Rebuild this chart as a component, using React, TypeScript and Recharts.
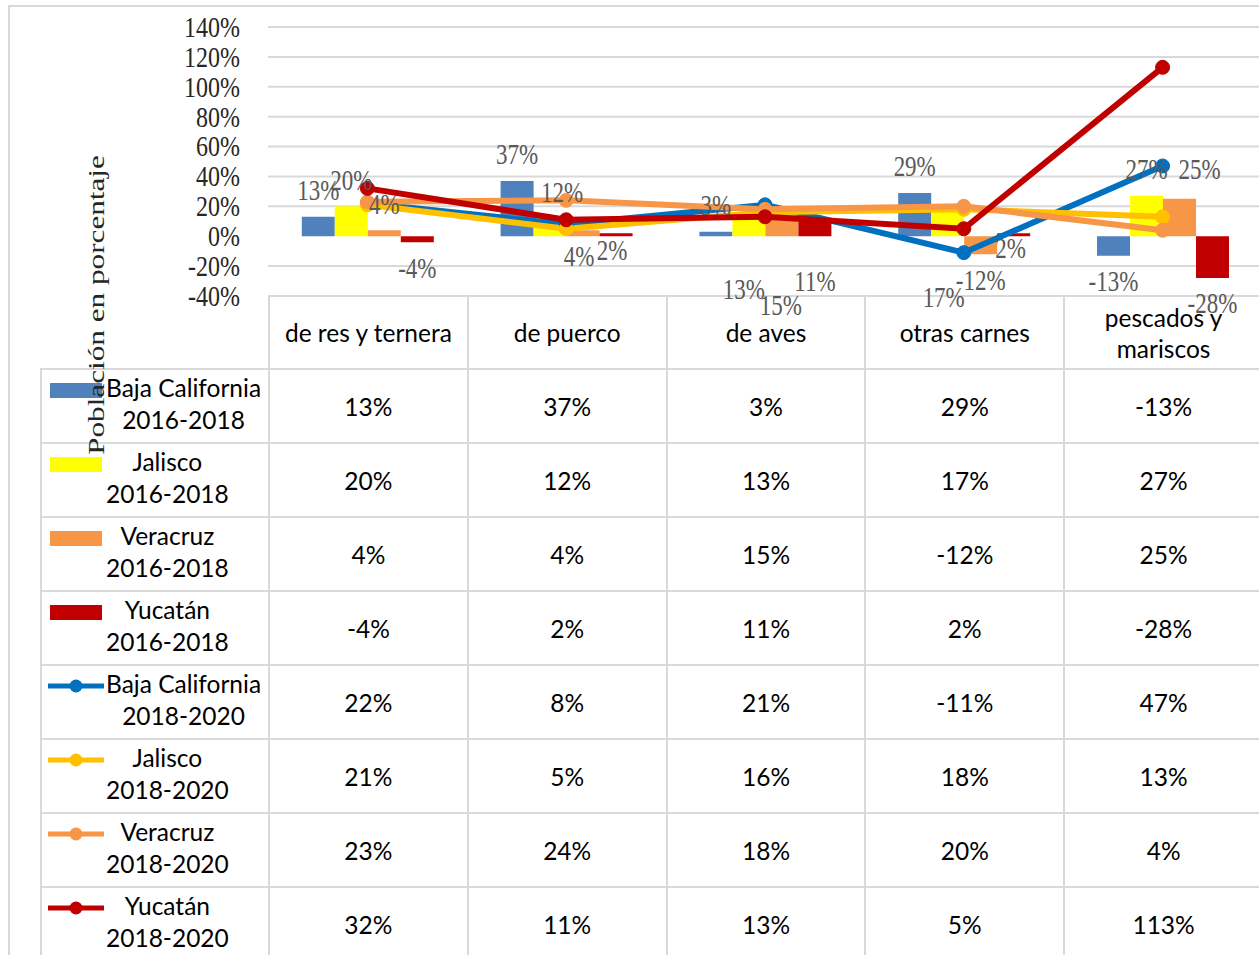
import React from 'react';
import {
  ComposedChart,
  Bar,
  Line,
  XAxis,
  YAxis,
  CartesianGrid,
  LabelList,
  Label,
} from 'recharts';

// categorías y valores (porcentaje de variación)
const categories = ['de res y ternera', 'de puerco', 'de aves', 'otras carnes', 'pescados y mariscos'];
const bajaCalifornia1618 = [13, 37, 3, 29, -13];
const jalisco1618 = [20, 12, 13, 17, 27];
const veracruz1618 = [4, 4, 15, -12, 25];
const yucatan1618 = [-4, 2, 11, 2, -28];
const bajaCalifornia1820 = [22, 8, 21, -11, 47];
const jalisco1820 = [21, 5, 16, 18, 13];
const veracruz1820 = [23, 24, 18, 20, 4];
const yucatan1820 = [32, 11, 13, 5, 113];
const yTicks = [-40, -20, 0, 20, 40, 60, 80, 100, 120, 140];

type Serie = { key: string; name: string; period: string; color: string; kind: 'bar' | 'line'; values: number[] };

const series: Serie[] = [
  { key: 'bc1618', name: 'Baja California', period: '2016-2018', color: '#4f81bd', kind: 'bar', values: bajaCalifornia1618 },
  { key: 'jal1618', name: 'Jalisco', period: '2016-2018', color: '#ffff00', kind: 'bar', values: jalisco1618 },
  { key: 'ver1618', name: 'Veracruz', period: '2016-2018', color: '#f79646', kind: 'bar', values: veracruz1618 },
  { key: 'yuc1618', name: 'Yucatán', period: '2016-2018', color: '#c00000', kind: 'bar', values: yucatan1618 },
  { key: 'bc1820', name: 'Baja California', period: '2018-2020', color: '#0070c0', kind: 'line', values: bajaCalifornia1820 },
  { key: 'jal1820', name: 'Jalisco', period: '2018-2020', color: '#ffc000', kind: 'line', values: jalisco1820 },
  { key: 'ver1820', name: 'Veracruz', period: '2018-2020', color: '#f79646', kind: 'line', values: veracruz1820 },
  { key: 'yuc1820', name: 'Yucatán', period: '2018-2020', color: '#c00000', kind: 'line', values: yucatan1820 },
];

const data = categories.map((category, i) => {
  const row: Record<string, string | number> = { category };
  series.forEach((s) => (row[s.key] = s.values[i]));
  return row;
});

// etiquetas que en el original fueron movidas a mano
const labelNudge: Record<string, Record<number, [number, number]>> = {
  jal1618: { 1: [12, 0], 2: [-5, 99], 3: [-4, 113] },
  ver1618: { 1: [-4, 52], 2: [-1, 118], 4: [20, -3] },
  yuc1618: { 1: [-4, 43], 2: [0, 88], 3: [-3, 41] },
};

const serif = "'Liberation Serif', 'Times New Roman', serif";
const sans = "Lato, 'Noto Sans', sans-serif";

const barLabel = (key: string) => (props: any) => {
  const { x, y, width, height, value, index } = props;
  const v = Number(value);
  const top = Math.min(y, y + height);
  const bottom = Math.max(y, y + height);
  const [dx, dy] = labelNudge[key]?.[index] ?? [0, 0];
  const cx = x + width / 2 + dx;
  const cy = (v >= 0 ? top - 26 : bottom + 26) + dy;
  return (
    <text
      transform={`translate(${cx},${cy}) scale(1,1.25)`}
      textAnchor='middle'
      dominantBaseline='central'
      fill='#595959'
      fontSize={23}
      fontFamily={serif}
    >
      {v}%
    </text>
  );
};

const YTick = (props: any) => {
  const { x, y, payload } = props;
  return (
    <text
      transform={`translate(${x},${y}) scale(1,1.25)`}
      textAnchor='end'
      dominantBaseline='central'
      fill='#262626'
      fontSize={24}
      fontFamily={serif}
    >
      {payload.value}%
    </text>
  );
};

const YTitle = () => (
  <text
    transform='translate(96,305) rotate(-90) scale(1.3,1)'
    textAnchor='middle'
    dominantBaseline='central'
    fill='#262626'
    fontSize={24}
    fontFamily={serif}
  >
    Población en porcentaje
  </text>
);

const border = '2px solid #d9d9d9';
const colW = 198.8;
const colX = (i: number) => 268 + i * colW;
const headTop = 295;
const rowTop = 368;
const rowH = 74;

const LegendKey = ({ s }: { s: Serie }) => (
  <svg width={60} height={30} style={{ position: 'absolute', left: 4, top: 5 }}>
    {s.kind === 'bar' ? (
      <rect x={4} y={8} width={52} height={15} fill={s.color} />
    ) : (
      <g>
        <line x1={2} x2={58} y1={15} y2={15} stroke={s.color} strokeWidth={5} />
        <circle cx={30} cy={15} r={6.5} fill={s.color} />
      </g>
    )}
  </svg>
);

const DataTable = () => (
  <div style={{ position: 'absolute', left: 0, top: 0, fontFamily: sans, fontSize: 24.5, color: '#000' }}>
    {categories.map((c, i) => (
      <div
        key={c}
        style={{
          position: 'absolute',
          left: colX(i),
          top: headTop,
          width: colW,
          height: rowH - 1,
          borderLeft: border,
          borderTop: border,
          boxSizing: 'border-box',
          display: 'flex',
          alignItems: 'center',
          justifyContent: 'center',
          textAlign: 'center',
          lineHeight: '31px',
        }}
      >
        <div style={{ maxWidth: 186 }}>{c}</div>
      </div>
    ))}
    {series.map((s, r) => (
      <React.Fragment key={s.key}>
        <div
          style={{
            position: 'absolute',
            left: 40,
            top: rowTop + r * rowH,
            width: 268 - 40,
            height: rowH,
            borderLeft: border,
            borderTop: border,
            boxSizing: 'border-box',
          }}
        >
          <LegendKey s={s} />
          <div
            style={{
              position: 'absolute',
              left: 64,
              top: 2,
              textAlign: 'center',
              lineHeight: '32px',
              whiteSpace: 'nowrap',
            }}
          >
            {s.name}
            <br />
            {s.period}
          </div>
        </div>
        {s.values.map((v, i) => (
          <div
            key={i}
            style={{
              position: 'absolute',
              left: colX(i),
              top: rowTop + r * rowH,
              width: colW,
              height: rowH,
              borderLeft: border,
              borderTop: border,
              boxSizing: 'border-box',
              display: 'flex',
              alignItems: 'center',
              justifyContent: 'center',
            }}
          >
            {v}%
          </div>
        ))}
      </React.Fragment>
    ))}
  </div>
);

export default function App() {
  return (
    <div style={{ position: 'absolute', left: 0, top: 0, width: 1259, height: 955, overflow: 'hidden', background: '#fff' }}>
      <div
        style={{
          position: 'absolute',
          left: 8,
          top: 5,
          width: 1300,
          height: 1000,
          borderLeft: border,
          borderTop: border,
          boxSizing: 'border-box',
        }}
      />
      <DataTable />
      <div style={{ position: 'absolute', left: 0, top: 0 }}>
        <ComposedChart
          width={1270}
          height={480}
          data={data}
          margin={{ top: 27, right: 8, bottom: 184, left: 0 }}
          barCategoryGap='17%'
          barGap={0}
        >
          <CartesianGrid
            vertical={false}
            stroke='#d9d9d9'
            strokeWidth={2}
            horizontalValues={yTicks.filter((t) => t !== 0)}
          />
          <XAxis dataKey='category' hide height={0} />
          <YAxis
            width={268}
            domain={[-40, 140]}
            ticks={yTicks}
            interval={0}
            axisLine={false}
            tickLine={false}
            tickSize={0}
            tickMargin={28}
            tick={<YTick />}
          >
            <Label content={<YTitle />} />
          </YAxis>
          {series
            .filter((s) => s.kind === 'bar')
            .map((s) => (
              <Bar key={s.key} dataKey={s.key} name={`${s.name} ${s.period}`} fill={s.color} isAnimationActive={false}>
                <LabelList dataKey={s.key} content={barLabel(s.key)} />
              </Bar>
            ))}
          {series
            .filter((s) => s.kind === 'line')
            .map((s) => (
              <Line
                key={s.key}
                type='linear'
                dataKey={s.key}
                name={`${s.name} ${s.period}`}
                stroke={s.color}
                strokeWidth={6}
                dot={{ r: 7, fill: s.color, stroke: s.color, strokeWidth: 1 }}
                activeDot={false}
                isAnimationActive={false}
              />
            ))}
        </ComposedChart>
      </div>
    </div>
  );
}
